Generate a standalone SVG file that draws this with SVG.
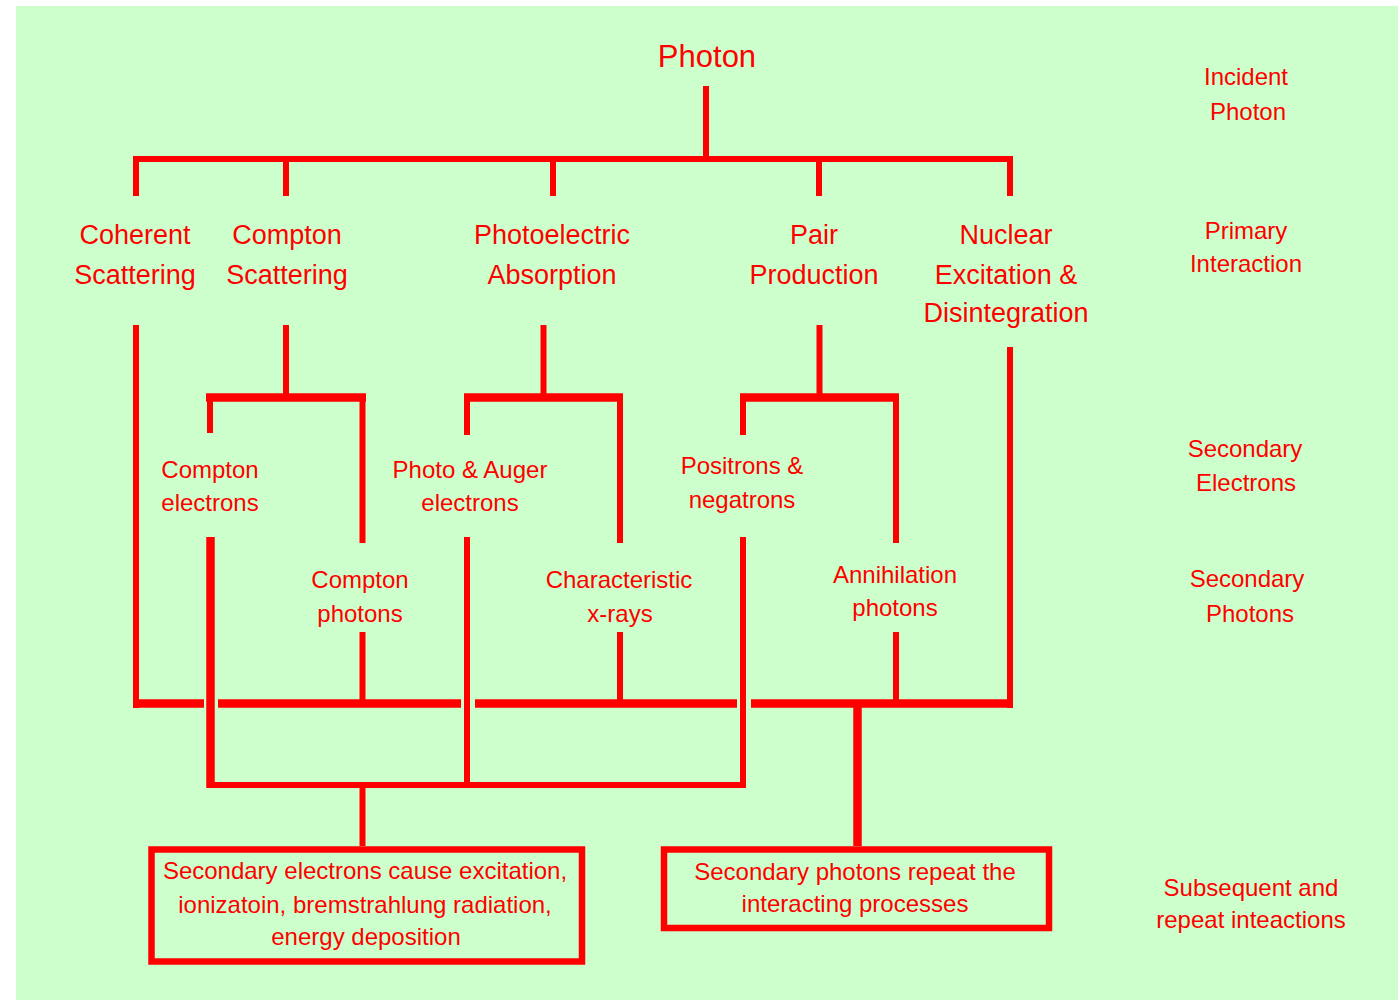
<svg xmlns="http://www.w3.org/2000/svg" width="1398" height="1000" viewBox="0 0 1398 1000">
<style>
text{font-family:"Liberation Sans",Arial,sans-serif;fill:#ff0000;text-anchor:middle}
.t1{font-size:31px}
.t2{font-size:27px}
.t3{font-size:24px}
.t4{font-size:24px}
.l6{stroke:#ff0000;stroke-width:6;fill:none}
.l8{stroke:#ff0000;stroke-width:8.5;fill:none}
.box{stroke:#ff0000;stroke-width:6.5;fill:none}
</style>
<rect x="0" y="0" width="1398" height="1000" fill="#ffffff"/>
<rect x="16" y="6" width="1382" height="994" fill="#ccffcc"/>
<g id="connectors">
<path class="l6" d="M136,196 V159 H1010 V196"/>
<path class="l6" d="M286,159 V196"/>
<path class="l6" d="M553,159 V196"/>
<path class="l6" d="M819,159 V196"/>
<path class="l6" d="M706,86 V159"/>
<path class="l6" d="M136,325 V708"/>
<path class="l6" d="M1010,347 V708"/>
<path class="l8" d="M133,703.5 H204"/>
<path class="l8" d="M218,703.5 H461"/>
<path class="l8" d="M475,703.5 H737"/>
<path class="l8" d="M751,703.5 H1013"/>
<path class="l6" d="M286,325 V394"/>
<path class="l8" d="M206,397.5 H366"/>
<path class="l6" d="M210,394 V433"/>
<path class="l6" d="M362.5,394 V543"/>
<path class="l8" d="M210.5,537 V788"/>
<path class="l6" d="M362.5,632 V703"/>
<path class="l6" d="M543.5,325 V394"/>
<path class="l8" d="M464,397.5 H623"/>
<path class="l6" d="M467,394 V435"/>
<path class="l6" d="M620,394 V543"/>
<path class="l6" d="M467,537 V785"/>
<path class="l6" d="M620,632 V703"/>
<path class="l6" d="M819.5,325 V394"/>
<path class="l8" d="M740,397.5 H899"/>
<path class="l6" d="M743,394 V435"/>
<path class="l6" d="M896,394 V543"/>
<path class="l6" d="M743,537 V788"/>
<path class="l6" d="M896,632 V703"/>
<path class="l6" d="M207,785 H746"/>
<path class="l6" d="M362.5,785 V846"/>
<path class="l8" d="M857.5,703 V846"/>
</g>
<g id="photon"><text class="t1" x="707" y="67">Photon</text></g>
<g id="coherent"><text class="t2" x="135" y="244">Coherent</text><text class="t2" x="135" y="284">Scattering</text></g>
<g id="compton-scattering"><text class="t2" x="287" y="244">Compton</text><text class="t2" x="287" y="284">Scattering</text></g>
<g id="photoelectric"><text class="t2" x="552" y="244">Photoelectric</text><text class="t2" x="552" y="284">Absorption</text></g>
<g id="pair"><text class="t2" x="814" y="244">Pair</text><text class="t2" x="814" y="284">Production</text></g>
<g id="nuclear"><text class="t2" x="1006" y="244">Nuclear</text><text class="t2" x="1006" y="284">Excitation &amp;</text><text class="t2" x="1006" y="322">Disintegration</text></g>
<g id="compton-electrons"><text class="t3" x="210" y="478">Compton</text><text class="t3" x="210" y="511">electrons</text></g>
<g id="compton-photons"><text class="t3" x="360" y="588">Compton</text><text class="t3" x="360" y="622">photons</text></g>
<g id="photo-auger"><text class="t3" x="470" y="478">Photo &amp; Auger</text><text class="t3" x="470" y="511">electrons</text></g>
<g id="characteristic"><text class="t3" x="619" y="588">Characteristic</text><text class="t3" x="620" y="622">x-rays</text></g>
<g id="positrons"><text class="t3" x="742" y="474">Positrons &amp;</text><text class="t3" x="742" y="508">negatrons</text></g>
<g id="annihilation"><text class="t3" x="895" y="583">Annihilation</text><text class="t3" x="895" y="616">photons</text></g>
<g id="box-electrons"><rect class="box" x="151.5" y="849.5" width="430.5" height="112"/><text class="t4" x="365" y="879">Secondary electrons cause excitation,</text><text class="t4" x="365" y="913">ionizatoin, bremstrahlung radiation,</text><text class="t4" x="366" y="945">energy deposition</text></g>
<g id="box-photons"><rect class="box" x="664" y="849.5" width="385" height="78.5"/><text class="t4" x="855" y="880">Secondary photons repeat the</text><text class="t4" x="855" y="912">interacting processes</text></g>
<g id="row-labels">
<text class="t3" x="1246" y="85">Incident</text><text class="t3" x="1248" y="120">Photon</text>
<text class="t3" x="1246" y="239">Primary</text><text class="t3" x="1246" y="272">Interaction</text>
<text class="t3" x="1245" y="457">Secondary</text><text class="t3" x="1246" y="491">Electrons</text>
<text class="t3" x="1247" y="587">Secondary</text><text class="t3" x="1250" y="622">Photons</text>
<text class="t3" x="1251" y="896">Subsequent and</text><text class="t3" x="1251" y="928">repeat inteactions</text>
</g>
</svg>
